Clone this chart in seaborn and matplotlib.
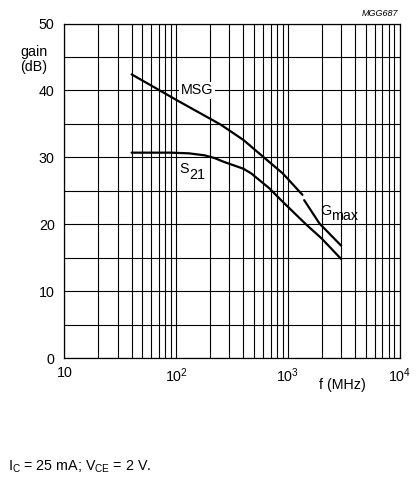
import numpy as np
import pandas as pd
import seaborn as sns
import matplotlib
matplotlib.use('Agg')
import matplotlib.pyplot as plt
from matplotlib.ticker import LogLocator, NullFormatter, FixedLocator

# values (f in MHz, gain in dB)
msg_f = [40, 100, 250, 400, 650, 900, 1350]
msg_db = [42.4, 38.6, 34.9, 32.6, 29.6, 27.6, 24.4]

gmax_f = [1400, 1920, 2200, 3000]
gmax_db = [23.6, 20.1, 19.1, 16.8]

s21_f = [40, 90, 130, 180, 220, 270, 400, 470, 680, 870, 1450, 2000, 3000]
s21_db = [30.7, 30.7, 30.6, 30.3, 29.9, 29.3, 28.3, 27.6, 25.4, 23.6, 20.0, 17.9, 14.8]

x_ticks = [10, 100, 1000, 10000]
x_ticklabels = ['10', '10$^2$', '10$^3$', '10$^4$']
y_ticks = [0, 10, 20, 30, 40, 50]

sns.set_style('white')
plt.rcParams['font.family'] = ['Liberation Sans', 'DejaVu Sans']
plt.rcParams['text.color'] = 'black'
plt.rcParams['mathtext.fontset'] = 'custom'
plt.rcParams['mathtext.rm'] = 'Liberation Sans'
plt.rcParams['mathtext.it'] = 'Liberation Sans:italic'

fs = 10.3

fig = plt.figure(figsize=(4.18, 4.8), dpi=100)
ax = fig.add_axes([0.154, 0.254, 0.802, 0.697])

df_msg = pd.DataFrame({'f': msg_f, 'gain': msg_db})
df_gmax = pd.DataFrame({'f': gmax_f, 'gain': gmax_db})
df_s21 = pd.DataFrame({'f': s21_f, 'gain': s21_db})
for d in (df_msg, df_gmax, df_s21):
    sns.lineplot(data=d, x='f', y='gain', ax=ax, color='black', lw=1.6, sort=False, zorder=5)

ax.set_xscale('log')
ax.set_xlim(10, 10000)
ax.set_ylim(0, 50)

ax.xaxis.set_major_locator(FixedLocator(x_ticks))
ax.set_xticklabels(x_ticklabels)
ax.xaxis.set_minor_locator(LogLocator(base=10, subs=np.arange(2, 10)))
ax.xaxis.set_minor_formatter(NullFormatter())
ax.set_yticks(y_ticks)
ax.set_yticks(np.arange(5, 50, 10), minor=True)
ax.tick_params(which='both', length=0, labelsize=fs, colors='black')
ax.tick_params(axis='x', pad=6)
ax.tick_params(axis='y', pad=7)
ax.grid(which='both', color='black', lw=0.8)
ax.set_axisbelow(True)
for s in ax.spines.values():
    s.set_color('black')
    s.set_linewidth(0.9)
ax.set_xlabel('')
ax.set_ylabel('')

# curve labels (subscripts kept at full size, as on the sheet)
ax.text(111, 40, 'MSG', fontsize=fs, ha='left', va='center', zorder=4,
        bbox=dict(facecolor='white', edgecolor='none', pad=1.2))
ax.text(107, 27.7, 'S', fontsize=fs, ha='left', va='baseline', zorder=4)
ax.annotate('21', xy=(107, 27.7), xytext=(6.9, -4.5), textcoords='offset points',
            fontsize=fs, ha='left', va='baseline', zorder=4)
ax.text(1940, 21.4, 'G', fontsize=fs, ha='left', va='baseline', zorder=4)
ax.annotate('max', xy=(1940, 21.4), xytext=(8.0, -3.6), textcoords='offset points',
            fontsize=fs, ha='left', va='baseline', zorder=4)

fig.text(34 / 418, 1 - 52 / 480, 'gain', fontsize=fs, ha='center', va='center')
fig.text(34 / 418, 1 - 67 / 480, '(dB)', fontsize=fs, ha='center', va='center')
fig.text(342 / 418, 1 - 385 / 480, 'f (MHz)', fontsize=fs, ha='center', va='center')
fig.text(398 / 418, 1 - 13 / 480, 'MGG687', fontsize=6.5, style='italic', ha='right', va='center')
fig.text(8 / 418, 1 - 467 / 480, 'I$_{\\mathrm{C}}$ = 25 mA; V$_{\\mathrm{CE}}$ = 2 V.',
         fontsize=fs, ha='left', va='center')

fig.savefig('out.png', dpi=100, facecolor='white')
